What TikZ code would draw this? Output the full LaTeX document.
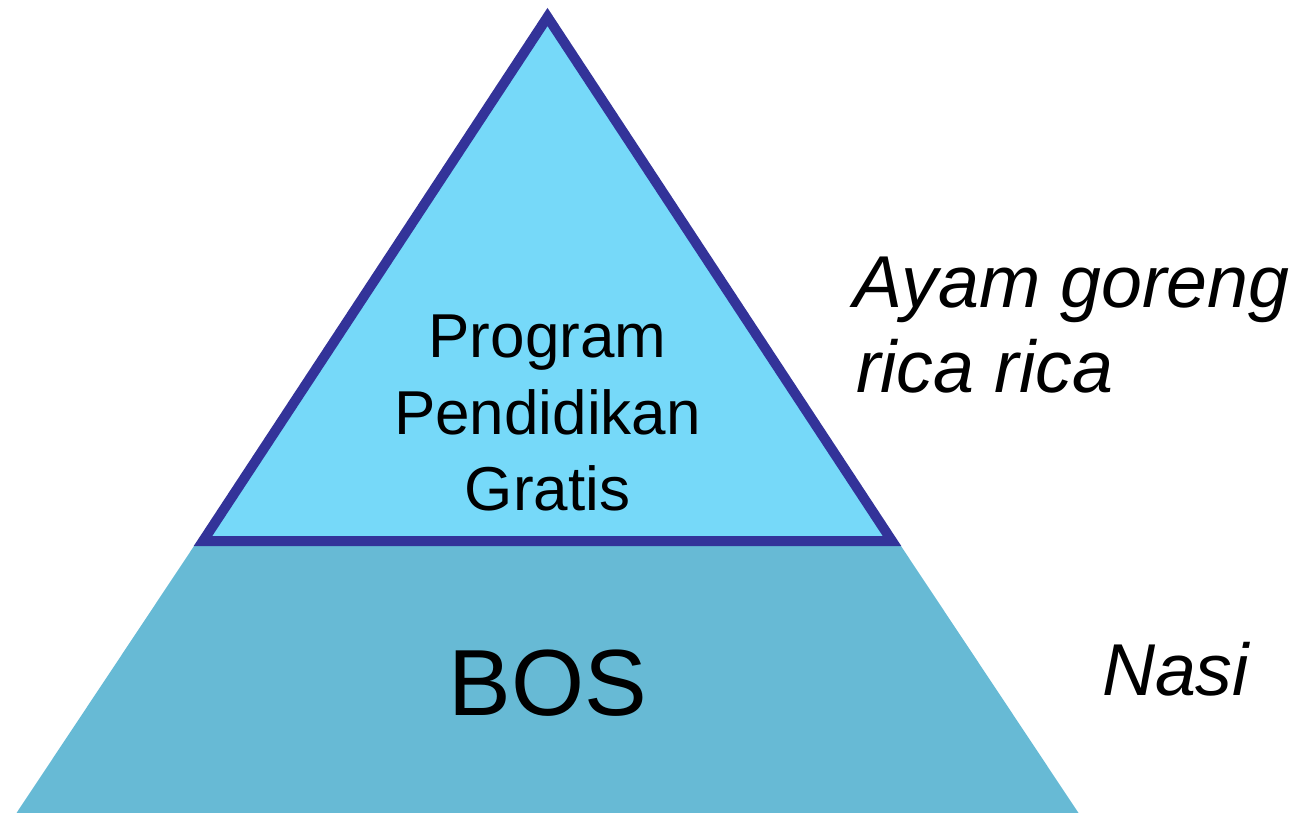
\documentclass[tikz,border=0pt]{standalone}
\usepackage{fontspec}
\setmainfont{Liberation Sans}
\definecolor{lightfill}{HTML}{76D9F9}
\definecolor{darkfill}{HTML}{67BAD5}
\definecolor{edge}{HTML}{333399}
\begin{document}
\begin{tikzpicture}[x=1pt,y=-1pt,
  lbl/.style={inner sep=0pt,outer sep=0pt,anchor=base,text=black},
  side/.style={inner sep=0pt,outer sep=0pt,anchor=base west,text=black,font=\fontsize{73.5}{84}\selectfont\itshape}]
\useasboundingbox (0,0) rectangle (1307,813);
% lower band
\coordinate (bl) at (16.5,813);
\coordinate (tl) at (195.4,544);
\coordinate (tr) at (899.6,544);
\coordinate (br) at (1078.5,813);
\fill[darkfill] (bl) -- (tl) -- (tr) -- (br) -- cycle;
% top triangle
\coordinate (apex) at (547.5,17);
\coordinate (bL) at (203,541);
\coordinate (bR) at (892,541);
\filldraw[fill=lightfill,draw=edge,line width=10pt,miter limit=10] (apex) -- (bL) -- (bR) -- cycle;
% texts
\node[lbl,font=\fontsize{62}{76}\selectfont] (t1) at (547.5,357) {Program};
\node[lbl,font=\fontsize{62}{76}\selectfont] (t2) at (547.5,434) {Pendidikan};
\node[lbl,font=\fontsize{62}{76}\selectfont] (t3) at (547.5,510) {Gratis};
\node[lbl,font=\fontsize{94}{110}\selectfont] (bos) at (548,715) {BOS};
\node[side] (ayam) at (853,307) {Ayam goreng};
\node[side] (rica) at (856,392) {rica rica};
\node[side] (nasi) at (1102,695) {Nasi};
\end{tikzpicture}
\end{document}
